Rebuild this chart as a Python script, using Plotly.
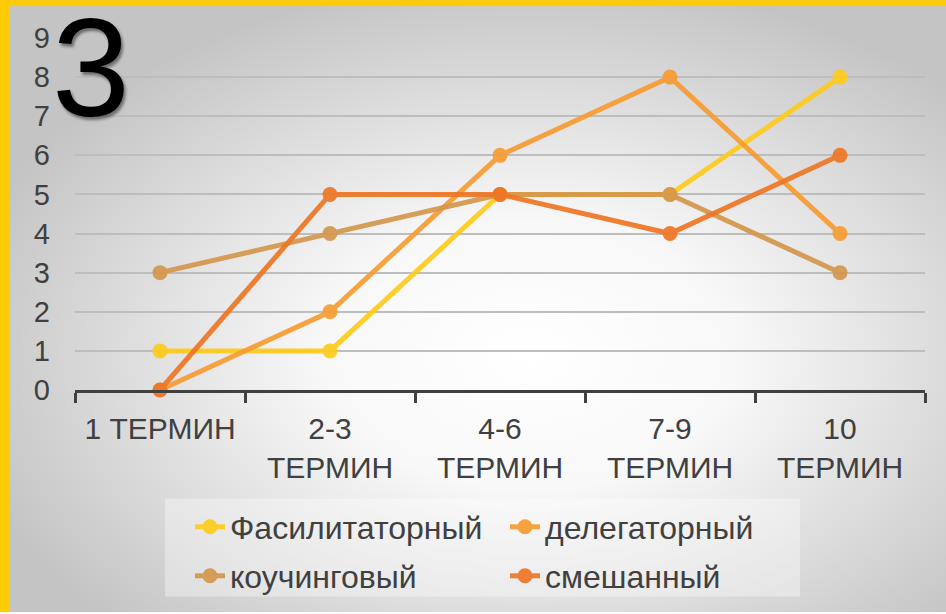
import base64
import plotly.graph_objects as go

categories = ["1 ТЕРМИН", "2-3<br>ТЕРМИН", "4-6<br>ТЕРМИН", "7-9<br>ТЕРМИН", "10<br>ТЕРМИН"]
fasilitatorny = [1, 1, 5, 5, 8]
delegatorny = [0, 2, 6, 8, 4]
kouchingovy = [3, 4, 5, 5, 3]
smeshanny = [0, 5, 5, 4, 6]

series = [
    ("Фасилитаторный", fasilitatorny, "#FFCB1C", "legend"),
    ("делегаторный", delegatorny, "#F89C32", "legend"),
    ("коучинговый", kouchingovy, "#D4974C", "legend2"),
    ("смешанный", smeshanny, "#EE7624", "legend2"),
]

W, H = 946, 614
L, R, T, B = 75, 21, 38, 223
PW, PH = W - L - R, H - T - B

svg = f'''<svg xmlns="http://www.w3.org/2000/svg" width="{W}" height="{H}" viewBox="0 0 {W} {H}" preserveAspectRatio="none">
<defs><radialGradient id="g" cx="0.56" cy="0.58" r="0.62">
<stop offset="0" stop-color="#ffffff"/><stop offset="0.35" stop-color="#f8f8f8"/><stop offset="1" stop-color="#c4c4c4"/>
</radialGradient></defs>
<rect x="0" y="0" width="{W}" height="{H}" fill="url(#g)"/>
<rect x="0" y="0" width="{W}" height="6" fill="#FFCB05"/>
<rect x="0" y="0" width="10" height="{H}" fill="#FFCB05"/>
</svg>'''
uri = "data:image/svg+xml;base64," + base64.b64encode(svg.encode()).decode()

def px_x(px):
    return (px - L) / PW

def px_y(py):
    return (H - B - py) / PH

fig = go.Figure()
for name, vals, color, lg in series:
    fig.add_trace(go.Scatter(
        x=categories, y=vals, name=name, mode="lines+markers",
        line=dict(color=color, width=5), marker=dict(color=color, size=15),
        opacity=0.92, cliponaxis=False, legend=lg,
    ))

font = "Liberation Sans, Arial, sans-serif"
legend_common = dict(orientation="h", xanchor="left", yanchor="middle",
                     bgcolor="rgba(0,0,0,0)", font=dict(size=32, color="#404040"),
                     entrywidth=270, entrywidthmode="pixels")
fig.update_layout(
    width=W, height=H,
    margin=dict(l=L, r=R, t=T, b=B),
    paper_bgcolor="rgba(0,0,0,0)", plot_bgcolor="rgba(0,0,0,0)",
    font=dict(family=font, color="#404040", size=30),
    images=[dict(source=uri, xref="paper", yref="paper", x=px_x(0), y=px_y(0),
                 sizex=W / PW, sizey=H / PH, xanchor="left", yanchor="top",
                 sizing="stretch", layer="below")],
    xaxis=dict(type="category", range=[-0.5, 4.5], showgrid=False, showline=True,
               linecolor="#404040", linewidth=3, ticks="outside", tickson="boundaries",
               ticklen=10, tickwidth=2.5, tickcolor="#404040", ticklabelstandoff=10,
               tickfont=dict(size=30, color="#404040"), fixedrange=True),
    yaxis=dict(range=[0, 9], dtick=1, showgrid=True, gridcolor="#BDBDBD", gridwidth=1.5,
               zeroline=False, showline=False, ticks="", ticklabelstandoff=24,
               tickfont=dict(size=29, color="#404040"), fixedrange=True),
    legend=dict(x=px_x(190), y=px_y(527), **legend_common),
    legend2=dict(x=px_x(190), y=px_y(576), **legend_common),
    shapes=[dict(type="rect", xref="paper", yref="paper", x0=px_x(165), x1=px_x(800),
                 y0=px_y(598), y1=px_y(500), fillcolor="rgba(255,255,255,0.35)",
                 line=dict(width=0), layer="below")],
    annotations=[dict(text="3", xref="paper", yref="paper", x=px_x(50), y=px_y(-13),
                      xanchor="left", yanchor="top", showarrow=False,
                      font=dict(family=font, size=140, color="#000000",
                                shadow="2px 3px 3px rgba(0,0,0,0.45)"))],
)

fig.write_html("out.html", config={"displayModeBar": False},
               post_script="document.body.style.margin='0px';")
